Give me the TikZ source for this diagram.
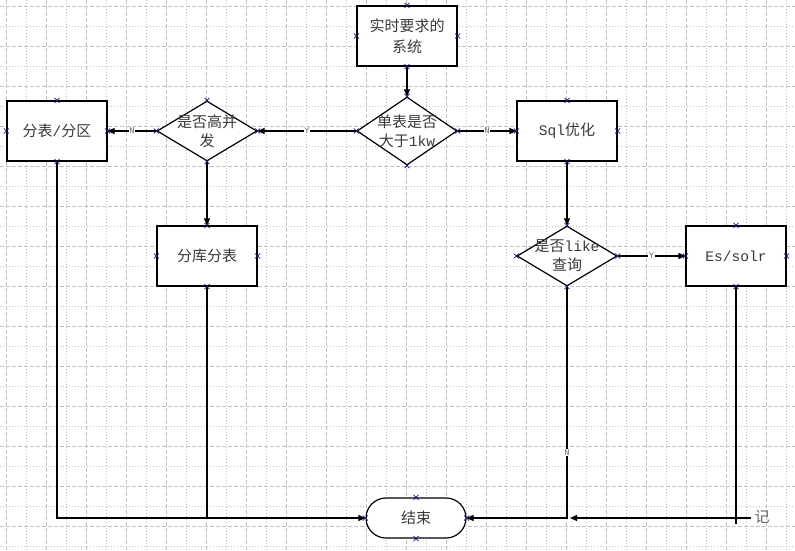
\documentclass[tikz,border=0pt]{standalone}
\usepackage{fontspec}
\setmainfont{Noto Sans CJK SC}
\newfontfamily\latn{Liberation Mono}[Scale=0.97]
\usetikzlibrary{shapes.geometric,arrows.meta}
\definecolor{txt}{HTML}{3A3A3A}
\definecolor{gridc}{HTML}{C0C0C0}
\definecolor{mkc}{HTML}{14146E}
\tikzset{
  x=1pt, y=-1pt,
  shp/.style={draw, line width=1.2pt, fill=white, inner sep=0pt, text=txt,
    font=\fontsize{15}{20}\selectfont, align=center},
  box/.style={shp, rectangle, minimum width=100pt, minimum height=60pt},
  dia/.style={shp, diamond, minimum width=100pt, minimum height=60pt},
  term/.style={shp, rectangle, rounded corners=20pt, minimum width=100pt, minimum height=40pt},
  dlab/.style={text=txt, font=\fontsize{15}{19}\selectfont, align=center, inner sep=0pt},
  arr/.style={line width=1.2pt, -{Triangle[length=7pt,width=6pt]}},
  ln/.style={line width=1.2pt},
  elab/.style={font=\latn\fontsize{9}{9}\selectfont, text=black!60, fill=white, inner sep=0.6pt},
  mk/.style={draw=mkc, line width=0.7pt},
  gdash/.style={draw=gridc, line width=0.6pt, dash pattern=on 4pt off 2pt},
  gdot/.style={draw=gridc, line width=0.6pt, dash pattern=on 1pt off 2pt}
}
\begin{document}
\begin{tikzpicture}
\fill[white] (0,0) rectangle (795,551);
\useasboundingbox (0,0) rectangle (795,551);
% grid
\foreach \k in {0,...,19} {
  \draw[gdash] (6.7+40*\k,0) -- (6.7+40*\k,551);
  \draw[gdot] (26.7+40*\k,0) -- (26.7+40*\k,551);
}
\foreach \k in {0,...,13} {
  \draw[gdash] (0,6.7+40*\k) -- (795,6.7+40*\k);
  \draw[gdot] (0,26.7+40*\k) -- (795,26.7+40*\k);
}
% nodes
\node[box] (top) at (407,36) {实时要求的\\[1pt]系统};
\node[dia, minimum height=68pt, label={[dlab]center:单表是否\\大于{\latn 1kw}}] (d1) at (407,131) {};
\node[dia, label={[dlab]center:是否高并\\发}] (d2) at (207,131) {};
\node[box] (fb) at (57,131) {分表{\latn /}分区};
\node[box] (sql) at (567,131) {{\latn Sql}优化};
\node[dia, label={[dlab]center:是否{\latn like}\\查询}] (d3) at (567,256) {};
\node[box] (es) at (736,256) {{\latn Es/solr}};
\node[box] (fk) at (207,256) {分库分表};
\node[term] (end) at (416,518) {结束};
\node[text=black!60, font=\fontsize{15}{15}\selectfont, inner sep=0pt] (ji) at (762,517) {记};
\coordinate (rt) at (751,518);
% connectors
\draw[arr] (top.south) -- (d1.north);
\draw[arr] (d1.west) -- node[elab]{Y} (d2.east);
\draw[arr] (d2.west) -- node[elab]{N} (fb.east);
\draw[arr] (d1.east) -- node[elab]{N} (sql.west);
\draw[arr] (sql.south) -- (d3.north);
\draw[arr] (d3.east) -- node[elab]{Y} (es.west);
\draw[arr] (d2.south) -- (fk.north);
\draw[arr] (fb.south) |- (end.west);
\draw[ln] (fk.south) -- (fk.south |- end.west);
\draw[arr] (d3.south) -- node[elab, pos=0.716]{N} (d3.south |- end.east) -- (end.east);
\draw[ln] (es.south) -- ([yshift=-6pt]es.south |- end.east);
\draw[arr] (rt) -- ([xshift=3pt]d3.south |- end.east);
% connection markers
\foreach \n in {top,d1,d2,fb,sql,d3,es,fk,end} {
  \foreach \a in {north,south,east,west} {
    \draw[mk] (\n.\a) +(-2.5,-2.5) -- +(2.5,2.5) +(-2.5,2.5) -- +(2.5,-2.5);
  }
}
\end{tikzpicture}
\end{document}
